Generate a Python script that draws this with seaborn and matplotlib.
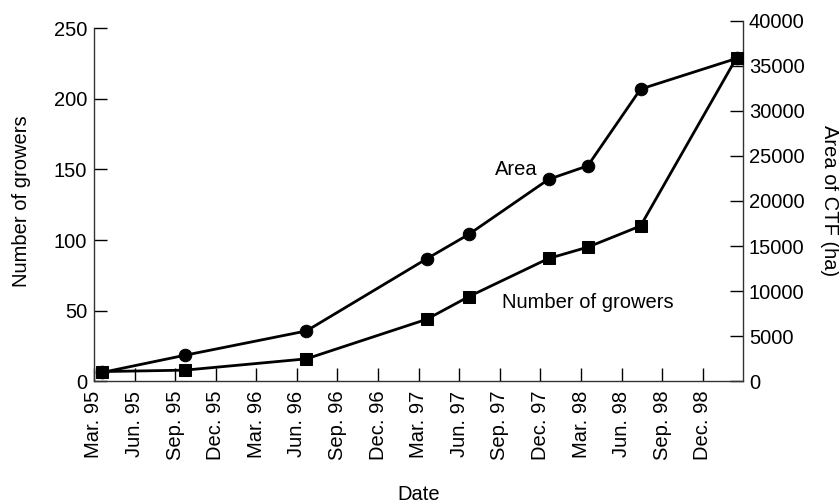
import numpy as np
import pandas as pd
import seaborn as sns
import matplotlib.pyplot as plt

# months after Mar. 95 for each survey
months = [0.6, 6.7, 15.7, 24.6, 27.7, 33.6, 36.5, 40.4, 47.5]
growers = [7, 8, 16, 44, 60, 87, 95, 110, 229]
area_ha = [1000, 2900, 5600, 13600, 16300, 22400, 23900, 32400, 35800]

tick_labels = ['Mar. 95', 'Jun. 95', 'Sep. 95', 'Dec. 95',
               'Mar. 96', 'Jun. 96', 'Sep. 96', 'Dec. 96',
               'Mar. 97', 'Jun. 97', 'Sep. 97', 'Dec. 97',
               'Mar. 98', 'Jun. 98', 'Sep. 98', 'Dec. 98']

df = pd.DataFrame({'month': months, 'growers': growers, 'area': area_ha})

sns.set_theme(style="ticks")
plt.rcParams['font.family'] = ['Liberation Sans', 'DejaVu Sans']
plt.rcParams['text.color'] = 'black'
plt.rcParams['axes.labelcolor'] = 'black'
fs = 14.5

fig = plt.figure(figsize=(8.39, 5.03), dpi=100)
ax = fig.add_axes([0.112, 0.2416, 0.774, 0.7176])
ax2 = ax.twinx()

sns.lineplot(data=df, x='month', y='area', ax=ax2, color='black', lw=2,
             marker='o', markersize=9, markeredgecolor='black')
sns.lineplot(data=df, x='month', y='growers', ax=ax, color='black', lw=2,
             marker='s', markersize=9, markeredgecolor='black')

# growers on top so the squares cover the circles
ax.set_zorder(ax2.get_zorder() + 1)
ax.patch.set_visible(False)

ax.set_xlim(0, 48)
ax.set_xticks(np.arange(0, 48, 3))
ax.set_xticklabels(tick_labels, rotation=90, fontsize=fs)
ax.set_ylim(0, 255.3)
ax.set_yticks(np.arange(0, 251, 50))
ax2.set_ylim(0, 40000)
ax2.set_yticks(np.arange(0, 40001, 5000))

ax.set_xlabel('Date', fontsize=fs, va='center')
ax.xaxis.set_label_coords(0.5, -0.314)
ax.set_ylabel('Number of growers', fontsize=fs, va='center')
ax.yaxis.set_label_coords(-0.111, 0.5)
ax2.set_ylabel('Area of CTF (ha)', fontsize=fs, rotation=270, va='center')
ax2.yaxis.set_label_coords(1.133, 0.5)

for a in (ax, ax2):
    a.tick_params(direction='in', length=9.5, width=1, colors='black',
                  labelsize=fs)
    for s in a.spines.values():
        s.set_linewidth(1)
        s.set_color('#333333')
    a.spines['top'].set_visible(False)
ax.tick_params(axis='x', pad=6.5)
ax.tick_params(axis='y', pad=5)
ax2.tick_params(axis='y', pad=4)
ax.spines['right'].set_visible(False)
ax2.spines['left'].set_visible(False)
ax2.spines['bottom'].set_visible(False)
ax.spines['left'].set_bounds(0, 250)

ax2.text(31.2, 23500, 'Area', fontsize=fs, ha='center', va='center', color='black')
ax.text(36.5, 55.7, 'Number of growers', fontsize=fs, ha='center', va='center',
        color='black')

fig.savefig('out.png', dpi=100)
